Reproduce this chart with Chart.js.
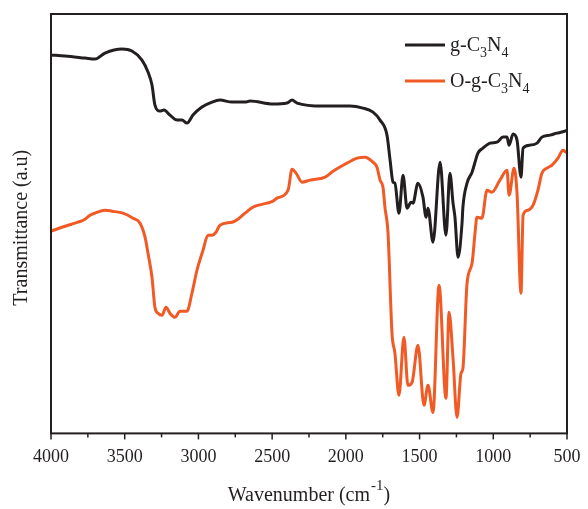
<!DOCTYPE html>
<html>
<head>
<meta charset="utf-8">
<script src="https://cdn.jsdelivr.net/npm/chart.js@4.4.1/dist/chart.umd.min.js"></script>
<style>
  html, body { margin: 0; padding: 0; background: #ffffff; }
  canvas { display: block; }
</style>
</head>
<body>
<canvas id="ftirChart" width="588" height="509"></canvas>
<script>
// x tick labels (cm-1)
const xTicks = [4000, 3500, 3000, 2500, 2000, 1500, 1000, 500];

// g-C3N4 spectrum (arbitrary transmittance units)
const gWavenumber = [4000, 3905, 3769, 3702, 3634, 3518, 3451, 3383, 3342, 3315, 3295, 3261, 3234, 3193, 3145, 3111, 3078, 3037, 2976, 2908, 2854, 2772, 2684, 2650, 2494, 2399, 2365, 2331, 2155, 1972, 1884, 1816, 1768, 1721, 1700, 1680, 1667, 1640, 1612, 1585, 1558, 1545, 1511, 1477, 1456, 1443, 1409, 1361, 1321, 1294, 1273, 1260, 1239, 1212, 1206, 1178, 1144, 1104, 1070, 1022, 975, 934, 907, 893, 866, 839, 812, 798, 751, 703, 670, 615, 568, 514, 500];
const gTrans = [378, 377, 375, 374, 380, 384, 382, 373, 361, 348, 328, 322, 323, 318, 313, 313, 310, 318, 326, 331, 333, 331, 331, 332, 329, 330, 333, 330, 327, 327, 325, 321, 313, 298, 273, 251, 250, 220, 258, 225, 231, 230, 250, 236, 216, 225, 191, 271, 198, 260, 230, 216, 176, 210, 226, 250, 261, 280, 285, 290, 291, 296, 296, 288, 299, 293, 256, 285, 288, 290, 296, 298, 300, 302, 303];

// O-g-C3N4 spectrum
const oWavenumber = [4000, 3905, 3817, 3769, 3735, 3702, 3634, 3586, 3512, 3444, 3396, 3362, 3342, 3315, 3295, 3274, 3247, 3220, 3193, 3159, 3125, 3078, 3044, 3010, 2969, 2935, 2908, 2881, 2854, 2772, 2732, 2684, 2630, 2535, 2494, 2467, 2392, 2365, 2338, 2297, 2243, 2141, 2087, 1992, 1924, 1870, 1816, 1789, 1768, 1748, 1735, 1714, 1687, 1667, 1640, 1606, 1579, 1551, 1511, 1470, 1443, 1409, 1368, 1321, 1300, 1273, 1246, 1219, 1206, 1178, 1144, 1124, 1111, 1077, 1043, 1009, 955, 907, 893, 859, 839, 812, 798, 764, 730, 697, 670, 636, 602, 561, 527, 507, 500];
const oTrans = [202, 207, 211, 214, 218, 220, 223, 222, 220, 215, 210, 196, 180, 156, 126, 120, 118, 126, 120, 116, 122, 122, 140, 163, 183, 198, 198, 201, 208, 211, 214, 220, 226, 230, 232, 235, 243, 264, 260, 251, 253, 256, 262, 270, 275, 276, 271, 266, 253, 246, 226, 200, 100, 80, 38, 96, 48, 51, 88, 28, 48, 21, 148, 35, 121, 75, 16, 60, 65, 150, 170, 200, 216, 215, 243, 241, 253, 263, 238, 265, 240, 140, 218, 223, 228, 243, 260, 265, 268, 275, 283, 281, 281];

const seriesNames = ['g-C3N4', 'O-g-C3N4'];
const seriesColors = ['#231f20', '#f15a24'];

const FONT = '"Liberation Serif", "Times New Roman", serif';
const INK = '#231f20';

function toPoints(xs, ys) {
    return xs.map((x, i) => ({ x: x, y: ys[i] }));
}

// draw text like "g-C3N4" with digits as subscripts
function drawChem(ctx, text, x, y, size) {
    let cx = x;
    for (const ch of text) {
        const sub = ch >= '0' && ch <= '9';
        ctx.font = (sub ? Math.round(size * 0.72) : size) + 'px ' + FONT;
        ctx.fillText(ch, cx, sub ? y + size * 0.28 : y);
        cx += ctx.measureText(ch).width;
    }
}

const framePlugin = {
    id: 'frame',
    afterDraw(chart) {
        const ctx = chart.ctx;
        const a = chart.chartArea;
        const xs = chart.scales.x;
        ctx.save();

        // box
        ctx.strokeStyle = INK;
        ctx.lineWidth = 2;
        ctx.strokeRect(a.left, a.top, a.right - a.left, a.bottom - a.top);

        // major and minor ticks below the axis
        ctx.lineWidth = 1.5;
        for (let v = 500; v <= 4000; v += 250) {
            const px = xs.getPixelForValue(v);
            const len = v % 500 === 0 ? 6 : 4;
            ctx.beginPath();
            ctx.moveTo(px, a.bottom);
            ctx.lineTo(px, a.bottom + len);
            ctx.stroke();
        }

        // x title with superscript
        ctx.fillStyle = INK;
        ctx.textBaseline = 'alphabetic';
        ctx.textAlign = 'left';
        const big = '20px ' + FONT, small = '15px ' + FONT;
        ctx.font = big;
        const w1 = ctx.measureText('Wavenumber (cm').width;
        const w3 = ctx.measureText(')').width;
        ctx.font = small;
        const w2 = ctx.measureText('-1').width + 1;
        let sx = (a.left + a.right) / 2 - (w1 + w2 + w3) / 2;
        const by = 501;
        ctx.font = big;
        ctx.fillText('Wavenumber (cm', sx, by);
        ctx.font = small;
        ctx.fillText('-1', sx + w1 + 1, by - 11);
        ctx.font = big;
        ctx.fillText(')', sx + w1 + w2, by);

        // y title
        ctx.save();
        ctx.translate(27, (a.top + a.bottom) / 2 + 4);
        ctx.rotate(-Math.PI / 2);
        ctx.textAlign = 'center';
        ctx.font = big;
        ctx.fillText('Transmittance (a.u)', 0, 0);
        ctx.restore();

        // legend
        const legendY = [45, 81];
        seriesNames.forEach((name, i) => {
            ctx.strokeStyle = seriesColors[i];
            ctx.lineWidth = 3;
            ctx.beginPath();
            ctx.moveTo(405, legendY[i]);
            ctx.lineTo(445, legendY[i]);
            ctx.stroke();
            ctx.fillStyle = INK;
            drawChem(ctx, name, 450, legendY[i] + 6, 20);
        });

        ctx.restore();
    }
};

new Chart(document.getElementById('ftirChart').getContext('2d'), {
    type: 'line',
    data: {
        datasets: [
            {
                label: seriesNames[0],
                data: toPoints(gWavenumber, gTrans),
                borderColor: seriesColors[0],
                borderWidth: 3,
                pointRadius: 0,
                cubicInterpolationMode: 'monotone',
                fill: false
            },
            {
                label: seriesNames[1],
                data: toPoints(oWavenumber, oTrans),
                borderColor: seriesColors[1],
                borderWidth: 3,
                pointRadius: 0,
                cubicInterpolationMode: 'monotone',
                fill: false
            }
        ]
    },
    options: {
        responsive: false,
        animation: false,
        layout: {
            padding: { left: 51, right: 21, top: 14, bottom: 28 }
        },
        plugins: {
            legend: { display: false },
            tooltip: { enabled: false }
        },
        scales: {
            x: {
                type: 'linear',
                reverse: true,
                min: 500,
                max: 4000,
                afterBuildTicks: function (axis) {
                    axis.ticks = xTicks.map(v => ({ value: v }));
                },
                afterFit: function (axis) {
                    // let the end labels hang past the plot edges
                    axis.paddingLeft = 0;
                    axis.paddingRight = 0;
                },
                grid: { display: false, drawTicks: false },
                border: { display: false },
                ticks: {
                    color: INK,
                    padding: 13,
                    maxRotation: 0,
                    autoSkip: false,
                    font: { family: FONT, size: 18 },
                    callback: function (value) {
                        return String(value);
                    }
                }
            },
            y: {
                display: false,
                min: 0,
                max: 419
            }
        }
    },
    plugins: [framePlugin]
});
</script>
</body>
</html>
